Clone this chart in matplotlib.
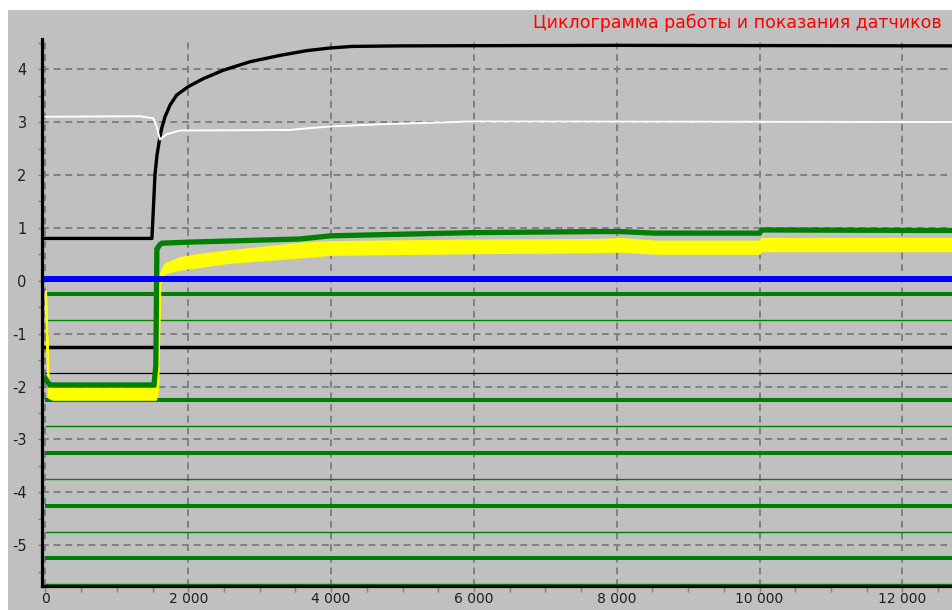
import matplotlib
matplotlib.use("Agg")
import matplotlib.pyplot as plt
from matplotlib.patches import Rectangle
from matplotlib.ticker import MultipleLocator

# ---------------- data ----------------
title = "Циклограмма работы и показания датчиков"

black_x = [0, 1490, 1500, 1533, 1561, 1603, 1627, 1674, 1744, 1837, 2000, 2210, 2490, 2864, 3284, 3658, 3985, 4300, 4965, 8000, 12710]
black_y = [0.80, 0.80, 1.05, 2.00, 2.37, 2.72, 2.88, 3.10, 3.32, 3.51, 3.67, 3.82, 3.98, 4.14, 4.26, 4.35, 4.40, 4.43, 4.44, 4.45, 4.44]

white_x = [0, 1323, 1510, 1557, 1603, 1697, 1884, 3424, 3564, 3845, 4027, 4727, 5945, 12710]
white_y = [3.10, 3.11, 3.07, 2.91, 2.67, 2.77, 2.84, 2.85, 2.87, 2.90, 2.92, 2.96, 3.01, 3.00]

green_x = [0, 60, 100, 1520, 1545, 1560, 1600, 1630, 2000, 3564, 4000, 5985, 7765, 8045, 8535, 10000, 10030, 12710]
green_y = [-1.85, -1.97, -1.97, -1.97, -1.60, 0.60, 0.68, 0.71, 0.73, 0.79, 0.85, 0.91, 0.93, 0.93, 0.90, 0.90, 0.96, 0.95]

yellow_x = [0, 40, 100, 1540, 1570, 1600, 1673, 1884, 2164, 2584, 3564, 4000, 5985, 7765, 8045, 8535, 10000, 10030, 12710]
yellow_lo = [-0.30, -2.20, -2.24, -2.24, -2.10, -0.05, 0.15, 0.22, 0.27, 0.35, 0.45, 0.50, 0.53, 0.55, 0.56, 0.52, 0.52, 0.57, 0.57]
yellow_hi = [-0.20, -2.00, -2.03, -2.03, -1.40, 0.12, 0.32, 0.44, 0.50, 0.57, 0.71, 0.74, 0.77, 0.78, 0.80, 0.75, 0.75, 0.80, 0.80]

blue_x = [0, 12710]
blue_y = [0.03, 0.03]

green_thick_levels = [-0.25, -2.25, -3.25, -4.25, -5.25]
green_thin_levels = [-0.75, -2.75, -3.75, -4.75, -5.73]
black_thick_levels = [-1.25]
black_thin_levels = [-1.75]

xticks = [0, 2000, 4000, 6000, 8000, 10000, 12000]
xtick_labels = ["0", "2 000", "4 000", "6 000", "8 000", "10 000", "12 000"]
yticks = [-5, -4, -3, -2, -1, 0, 1, 2, 3, 4]
ytick_labels = ["-5", "-4", "-3", "-2", "-1", "0", "1", "2", "3", "4"]

# ---------------- figure ----------------
W, H = 953, 610
fig = plt.figure(figsize=(W / 100, H / 100), dpi=100)
fig.patch.set_facecolor("white")
BG = "#c0c0c0"
fig.add_artist(Rectangle((8 / W, 0), 1, (H - 10) / H, transform=fig.transFigure,
                         facecolor=BG, edgecolor="none", zorder=0))

ax_left, ax_right, ax_top, ax_bottom = 42, 953, 39, 586
ax = fig.add_axes([ax_left / W, (H - ax_bottom) / H, (ax_right - ax_left) / W, (ax_bottom - ax_top) / H])
ax.set_facecolor(BG)
ax.set_xlim(-49, 12710)
ax.set_ylim(-5.77, 4.57)

for s in ["top", "right"]:
    ax.spines[s].set_visible(False)
for s in ["left", "bottom"]:
    ax.spines[s].set_linewidth(2.3)
    ax.spines[s].set_color("black")
    ax.spines[s].set_zorder(10)

ax.set_axisbelow(True)
ax.grid(True, which="major", color="#808080", linewidth=1.4, linestyle=(0, (3.5, 2.5)))

ax.set_xticks(xticks)
ax.set_xticklabels(xtick_labels)
ax.set_yticks(yticks)
ax.set_yticklabels(ytick_labels)
ax.xaxis.set_minor_locator(MultipleLocator(500))
ax.yaxis.set_minor_locator(MultipleLocator(0.5))
ax.tick_params(axis="x", which="both", direction="out", length=4, width=1, color="#808080",
               labelsize=10, pad=0.5, labelcolor="#202020")
ax.tick_params(axis="y", which="both", direction="out", length=3, width=1, color="#808080",
               labelsize=10.5, pad=8, labelcolor="#202020")

# horizontal reference lines
for lv in green_thick_levels:
    ax.hlines(lv, 0, 12710, colors="#008000", linewidth=2.9, zorder=2)
for lv in green_thin_levels:
    ax.hlines(lv, 0, 12710, colors="#008000", linewidth=1.0, zorder=2)
for lv in black_thick_levels:
    ax.hlines(lv, -49, 12710, colors="black", linewidth=2.5, zorder=2)
for lv in black_thin_levels:
    ax.hlines(lv, 0, 12710, colors="black", linewidth=0.9, zorder=2)

# series
ax.fill_between(yellow_x, yellow_lo, yellow_hi, color="#ffff00", linewidth=1.5, edgecolor="#ffff00", zorder=3)
ax.plot(green_x, green_y, color="#008000", linewidth=3.8, zorder=4, solid_joinstyle="miter")
ax.plot(blue_x, blue_y, color="#0000ff", linewidth=4.3, zorder=5)
ax.plot(black_x, black_y, color="black", linewidth=2.4, zorder=6)
ax.plot(white_x, white_y, color="white", linewidth=1.4, zorder=7)

fig.text(942 / W, 1 - 23 / H, title, color="#ff0000", fontsize=12.5, ha="right", va="center",
         family=["DejaVu Sans"])

fig.savefig("out.png", dpi=100, facecolor=fig.get_facecolor())
